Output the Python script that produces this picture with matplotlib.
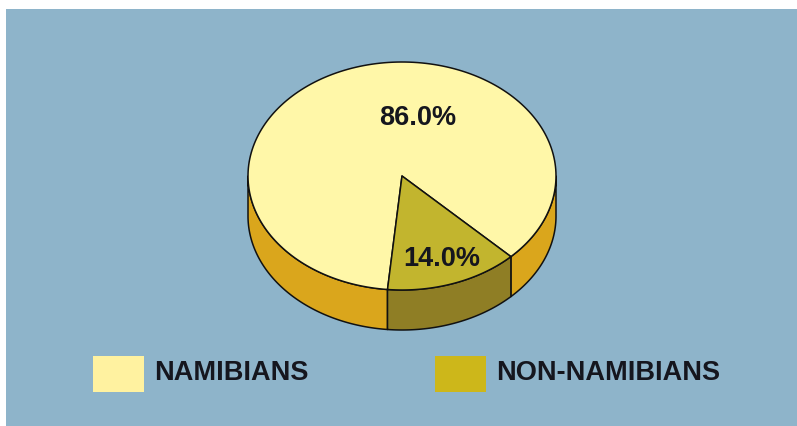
import numpy as np
import matplotlib
matplotlib.use("Agg")
import matplotlib.pyplot as plt
from matplotlib.patches import Polygon, Rectangle

# Population shares (%)
categories = ["NAMIBIANS", "NON-NAMIBIANS"]
shares = [86.0, 14.0]
value_labels = ["86.0%", "14.0%"]

# Styling
top_colors = ["#FFF7A8", "#C2B52E"]
side_colors = ["#DAA61C", "#8F7E25"]
legend_colors = ["#FFF2A0", "#CDB71A"]
bg_color = "#8EB4CA"
text_color = "#15161E"

W, H = 797, 427
fig = plt.figure(figsize=(W / 100, H / 100), dpi=100, facecolor="white")
ax = fig.add_axes([0, 0, 1, 1])
ax.set_xlim(0, W)
ax.set_ylim(H, 0)
ax.axis("off")

# Panel background
ax.add_patch(Rectangle((6, 10), W - 6, H - 10, facecolor=bg_color,
                       edgecolor="none", zorder=0))

# Pie geometry (screen units)
cx, cy = 402, 177
rx, ry = 154, 114
depth = 40
start_angle = -45.0


def pt(t_deg, dy=0.0):
    t = np.radians(t_deg)
    return cx + rx * np.cos(t), cy - ry * np.sin(t) + dy


def arc(a, b, dy=0.0, n=200):
    ts = np.linspace(a, b, n)
    xs, ys = pt(ts, dy)
    return np.column_stack([xs, ys])


total = sum(shares)
bounds = []
a = start_angle
for v in shares:
    b = a + 360.0 * v / total
    bounds.append((a, b))
    a = b

edge_kw = dict(edgecolor="#111111", linewidth=1.1, joinstyle="round")

# Side walls (front half only)
for (a, b), col in zip(bounds, side_colors):
    for k in range(-1, 3):
        lo = max(a, 180 + 360 * k)
        hi = min(b, 360 + 360 * k)
        if hi <= lo:
            continue
        top = arc(lo, hi)
        bot = arc(hi, lo, dy=depth)
        ax.add_patch(Polygon(np.vstack([top, bot]), closed=True,
                             facecolor=col, zorder=2, **edge_kw))

# Top faces
for (a, b), col in zip(bounds, top_colors):
    verts = np.vstack([[cx, cy], arc(a, b)])
    ax.add_patch(Polygon(verts, closed=True, facecolor=col, zorder=3, **edge_kw))

# Value labels: (angle, radius fraction) anchors inside each slice
label_anchor = [(79.2, 0.53), (None, 0.76)]
for (a, b), lab, (ang, rf) in zip(bounds, value_labels, label_anchor):
    if ang is None:
        ang = (a + b) / 2
    t = np.radians(ang)
    lx = cx + rf * rx * np.cos(t)
    ly = cy - rf * ry * np.sin(t)
    ax.text(lx, ly, lab, ha="center", va="center", fontsize=19.5,
            fontweight="bold", family=["Liberation Sans", "DejaVu Sans"],
            color=text_color, zorder=4)

# Legend
legend_x = [93, 435]
for x0, name, col in zip(legend_x, categories, legend_colors):
    ax.add_patch(Rectangle((x0, 357), 51, 36, facecolor=col,
                           edgecolor="none", zorder=2))
    ax.text(x0 + 61, 373, name, ha="left", va="center", fontsize=19.5,
            fontweight="bold", family=["Liberation Sans", "DejaVu Sans"],
            color=text_color, zorder=4)

fig.savefig("out.png", dpi=100, facecolor="white")
